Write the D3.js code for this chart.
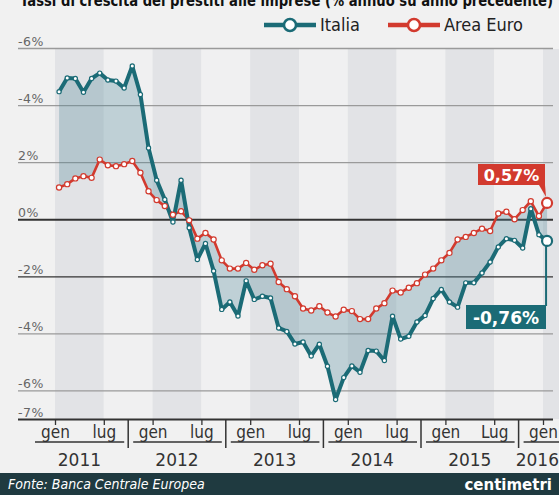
<!DOCTYPE html>
<html>
<head>
<meta charset="utf-8">
<script src="https://cdn.jsdelivr.net/npm/d3@7"></script>
<style>
body { margin: 0; background: #f1f1f1; }
svg { display: block; font-family: "Liberation Sans Narrow", "DejaVu Sans Condensed", sans-serif; }
</style>
</head>
<body>
<svg width="559" height="495"></svg>
<script>
// valori mensili gen 2011 - gen 2016 (%)
var italia = [
    4.47, 4.95, 4.93, 4.45, 4.93, 5.12, 4.88, 4.84, 4.6, 5.37, 4.37, 2.5,
    1.37, 0.69, -0.1, 1.37, -0.3, -1.41, -0.85, -1.81, -3.16, -2.9, -3.39, -2.16,
    -2.81, -2.7, -2.76, -3.81, -3.93, -4.37, -4.3, -4.79, -4.38, -5.15, -6.32, -5.55,
    -5.14, -5.36, -4.6, -4.62, -4.95, -3.4, -4.2, -4.1, -3.6, -3.37, -2.78, -2.46,
    -2.9, -3.08, -2.23, -2.23, -1.88, -1.5, -0.97, -0.68, -0.74, -1.01, 0.37, -0.54,
    -0.76
];
var euro = [
    1.11, 1.23, 1.43, 1.51, 1.45, 2.09, 1.89, 1.86, 1.93, 2.04, 1.63, 0.98,
    0.67, 0.46, 0.16, 0.28, -0.04, -0.68, -0.48, -0.71, -1.44, -1.73, -1.73, -1.53,
    -1.77, -1.61, -1.56, -2.2, -2.45, -2.7, -3.13, -3.2, -3.05, -3.27, -3.41, -3.17,
    -3.22, -3.5, -3.5, -3.13, -2.94, -2.5, -2.57, -2.4, -2.24, -1.94, -1.73, -1.44,
    -1.18, -0.71, -0.62, -0.48, -0.33, -0.41, 0.2, 0.26, 0.0, 0.32, 0.63, 0.11,
    0.57
];
var years = ["2011", "2012", "2013", "2014", "2015", "2016"];
var monthTicks = [0, 6, 12, 18, 24, 30, 36, 42, 48, 54, 60];
var monthLabels = ["gen", "lug", "gen", "lug", "gen", "lug", "gen", "lug", "gen", "Lug", "gen"];
var yTicks = [6, 4, 2, 0, -2, -4, -6, -7];
var yLabels = ["-6%", "-4%", "2%", "0%", "-2%", "-4%", "-6%", "-7%"];

var teal = "#1b6b76", red = "#d23a2e";

var svg = d3.select("svg");

var x = d3.scaleLinear().domain([0, 60]).range([55, 543]),
    y = d3.scaleLinear().domain([-7, 6]).range([419, 48]);

// fasce semestrali
var bands = d3.range(11);
svg.append("g").selectAll("rect")
    .data(bands)
    .enter().append("rect")
    .attr("x", function (k) { return x(k * 6); })
    .attr("y", y(6) + 1)
    .attr("width", function (k) { return Math.min(x(k * 6 + 6), 559) - x(k * 6); })
    .attr("height", y(-7) - y(6) - 1)
    .attr("fill", function (k) { return k % 2 == 0 ? "#e2e3e6" : "#f0f0f1"; });

// griglia orizzontale + etichette
var gy = svg.append("g")
    .attr("transform", "translate(18,0)")
    .call(d3.axisRight(y).tickValues(yTicks).tickSize(535)
        .tickFormat(function (d, i) { return yLabels[i]; }));
gy.select(".domain").remove();
gy.selectAll("line")
    .attr("stroke", function (d) { return (d == 0 || d == -2 || d == -7) ? "#333" : "#9a9a9a"; })
    .attr("stroke-width", function (d) { return (d == 0 || d == -7) ? 1.8 : 1.3; });
gy.selectAll("text")
    .attr("x", 0)
    .attr("dy", -3)
    .attr("fill", "#666")
    .style("font-family", "'DejaVu Sans', sans-serif")
    .style("font-size", "12.5px")
    .style("letter-spacing", "0.5px");

// area tra le due serie
var area = d3.area()
    .x(function (d, i) { return x(i + 0.5); })
    .y0(function (d, i) { return y(euro[i]); })
    .y1(function (d) { return y(d); });
svg.append("path")
    .datum(italia)
    .attr("d", area)
    .attr("fill", "#4f8799")
    .attr("opacity", 0.3);

var line = d3.line()
    .x(function (d, i) { return x(i + 0.5); })
    .y(function (d) { return y(d); });

svg.append("path").datum(euro)
    .attr("d", line).attr("fill", "none")
    .attr("stroke", red).attr("stroke-width", 2.6).attr("stroke-linejoin", "round");
svg.append("path").datum(italia)
    .attr("d", line).attr("fill", "none")
    .attr("stroke", teal).attr("stroke-width", 4).attr("stroke-linejoin", "round");

function dots(data, color, r) {
    svg.append("g").selectAll("circle")
        .data(data)
        .enter().append("circle")
        .attr("cx", function (d, i) { return x(i + 0.5); })
        .attr("cy", function (d) { return y(d); })
        .attr("r", function (d, i) { return i == data.length - 1 ? 5 : r; })
        .attr("fill", "#fff")
        .attr("stroke", color)
        .attr("stroke-width", function (d, i) { return i == data.length - 1 ? 2.2 : 1.2; });
}
dots(euro, red, 2.6);
dots(italia, teal, 2.1);

// asse x
var gx = svg.append("g")
    .attr("transform", "translate(0," + y(-7) + ")")
    .call(d3.axisBottom(x).tickValues(monthTicks).tickSize(6).tickPadding(1)
        .tickFormat(function (d, i) { return monthLabels[i]; }));
gx.select(".domain").remove();
gx.selectAll("line").attr("stroke", "#333").attr("stroke-width", 1.3);
gx.selectAll("text").attr("fill", "#333").style("font-size", "17px")
    .style("font-family", "'DejaVu Sans Condensed', 'DejaVu Sans', sans-serif");

var seps = [1, 2, 3, 4, 5].map(function (k) { return x(12 * k - 3); });
svg.append("g").selectAll("line")
    .data(seps)
    .enter().append("line")
    .attr("x1", function (d) { return d; }).attr("x2", function (d) { return d; })
    .attr("y1", y(-7)).attr("y2", 448)
    .attr("stroke", "#333").attr("stroke-width", 1.5);

svg.append("g").selectAll("line")
    .data(years)
    .enter().append("line")
    .attr("x1", function (d, k) { return k == 0 ? 35 : seps[k - 1] + 5; })
    .attr("x2", function (d, k) { return k == 5 ? 559 : seps[k] - 4; })
    .attr("y1", 442).attr("y2", 442)
    .attr("stroke", "#333").attr("stroke-width", 1.4);

svg.append("g").selectAll("text")
    .data(years)
    .enter().append("text")
    .attr("x", function (d, k) { return k == 5 ? 559 : x(12 * k + 3); })
    .attr("y", 466)
    .attr("text-anchor", function (d, k) { return k == 5 ? "end" : "middle"; })
    .attr("fill", "#333")
    .style("font-family", "'DejaVu Sans', sans-serif")
    .style("font-size", "17px")
    .text(function (d) { return d; });

// titolo (tagliato in alto)
svg.append("text")
    .attr("x", 20).attr("y", 6)
    .attr("textLength", 533).attr("lengthAdjust", "spacingAndGlyphs")
    .style("font-family", "'DejaVu Sans', sans-serif")
    .style("font-weight", "bold").style("font-size", "16px")
    .attr("fill", "#111")
    .text("Tassi di crescita dei prestiti alle imprese (% annuo su anno precedente)");

// legenda
function legend(x0, color, label, w) {
    var g = svg.append("g");
    g.append("line").attr("x1", x0).attr("x2", x0 + 52).attr("y1", 25).attr("y2", 25)
        .attr("stroke", color).attr("stroke-width", 4.5);
    g.append("circle").attr("cx", x0 + 26).attr("cy", 25).attr("r", 6)
        .attr("fill", "#fff").attr("stroke", color).attr("stroke-width", 2.5);
    g.append("text").attr("x", x0 + 56).attr("y", 31)
        .attr("fill", "#222").style("font-size", "18px").text(label);
}
legend(264, teal, "Italia");
legend(388, red, "Area Euro");

// etichette finali
function fmt(v) { return v.toFixed(2).replace(".", ",") + "%"; }
var xl = x(60.5);
var ye = y(euro[60]), yi = y(italia[60]);

svg.append("rect").attr("x", 478).attr("y", 164).attr("width", 67).attr("height", 21).attr("fill", red);
svg.append("path").attr("d", "M539,185 L545,185 L" + (xl - 1) + "," + (ye - 6) + "Z").attr("fill", red);
svg.append("text").attr("x", 511.5).attr("y", 181).attr("text-anchor", "middle")
    .attr("fill", "#fff").style("font-family", "'DejaVu Sans', sans-serif")
    .style("font-weight", "bold").style("font-size", "16px").text(fmt(euro[60]));

svg.append("line").attr("x1", xl - 1).attr("x2", xl - 1).attr("y1", yi + 5).attr("y2", 306)
    .attr("stroke", teal).attr("stroke-width", 2);
svg.append("rect").attr("x", 466).attr("y", 305).attr("width", 80).attr("height", 24).attr("fill", teal);
svg.append("text").attr("x", 506).attr("y", 323.5).attr("text-anchor", "middle")
    .attr("fill", "#fff").style("font-family", "'DejaVu Sans', sans-serif")
    .style("font-weight", "bold").style("font-size", "17px").text(fmt(italia[60]));

// piede
svg.append("rect").attr("x", 0).attr("y", 473).attr("width", 559).attr("height", 22).attr("fill", "#1f3a40");
svg.append("text").attr("x", 8).attr("y", 489).attr("fill", "#fff")
    .style("font-style", "italic").style("font-size", "14px")
    .text("Fonte: Banca Centrale Europea");
svg.append("text").attr("x", 552).attr("y", 490).attr("text-anchor", "end").attr("fill", "#fff")
    .style("font-family", "'DejaVu Sans', sans-serif")
    .style("font-weight", "bold").style("font-size", "15px")
    .text("centimetri");
</script>
</body>
</html>
